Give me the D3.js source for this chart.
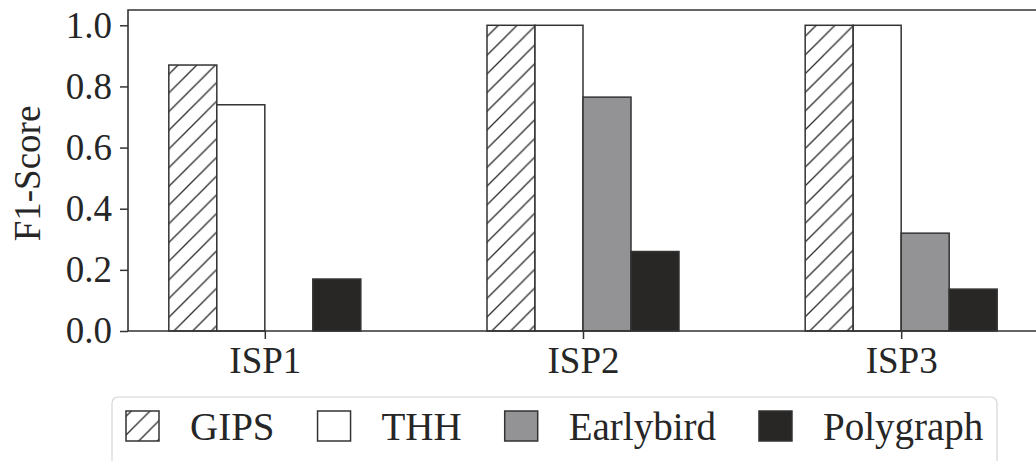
<!DOCTYPE html>
<html>
<head>
<meta charset="utf-8">
<script src="https://cdn.jsdelivr.net/npm/d3@7"></script>
<style>
  body { margin: 0; background: #fff; }
  svg text { font-family: "Liberation Serif", "Times New Roman", serif; fill: #262626; }
</style>
</head>
<body>
<svg id="chart" width="1036" height="461"></svg>
<script>
// data
const isps = ["ISP1", "ISP2", "ISP3"];
const methods = ["GIPS", "THH", "Earlybird", "Polygraph"];
const gips = [0.87, 1.0, 1.0];
const thh = [0.74, 1.0, 1.0];
const earlybird = [0.0, 0.765, 0.32];
const polygraph = [0.17, 0.26, 0.137];
const yTicks = [0.0, 0.2, 0.4, 0.6, 0.8, 1.0];

(function () {
    const series = [gips, thh, earlybird, polygraph];
    const fills = ["url(#hatch)", "#ffffff", "#939396", "#282725"];

    const svg = d3.select("#chart");
    const left = 128, right = 1038, top = 10, bottom = 331;

    // hatch for GIPS
    const pat = svg.append("defs").append("pattern")
        .attr("id", "hatch")
        .attr("patternUnits", "userSpaceOnUse")
        .attr("width", 18.7).attr("height", 18.7);
    pat.append("rect").attr("width", 18.7).attr("height", 18.7).attr("fill", "#fff");
    pat.append("path")
        .attr("d", "M-2,20.7 L20.7,-2 M-4,4 L4,-4 M14.7,22.7 L22.7,14.7")
        .attr("stroke", "#2a2a2a").attr("stroke-width", 1.3);

    const x = d3.scalePoint().domain(isps).range([left, right]).padding(0.43);
    const xs = d3.scaleBand().domain(methods).range([-96, 96]);
    const y = d3.scaleLinear().domain([0, 1.05]).range([bottom, top]);

    //bars
    methods.forEach((m, j) => {
        svg.append("g")
            .selectAll("rect")
            .data(series[j])
            .join("rect")
            .attr("x", (d, i) => x(isps[i]) + xs(m))
            .attr("y", d => y(d))
            .attr("width", xs.bandwidth())
            .attr("height", d => y(0) - y(d))
            .attr("fill", fills[j])
            .attr("stroke", "#333")
            .attr("stroke-width", 1.5);
    });

    //axes
    const yAxis = svg.append("g")
        .attr("transform", `translate(${left},0)`)
        .call(d3.axisLeft(y).tickValues(yTicks).tickFormat(d3.format(".1f")).tickSize(8).tickPadding(8));
    const xAxis = svg.append("g")
        .attr("transform", `translate(0,${bottom})`)
        .call(d3.axisBottom(x).tickSize(8).tickPadding(8));
    [yAxis, xAxis].forEach(a => {
        a.select(".domain").remove();
        a.selectAll("line").attr("stroke", "#333").attr("stroke-width", 1.5);
        a.selectAll("text").style("font-size", "37px")
            .style("font-family", "'Liberation Serif', serif").attr("fill", "#262626");
    });

    //spines
    svg.append("path")
        .attr("d", `M${right},${top} H${left} V${bottom} H${right}`)
        .attr("fill", "none").attr("stroke", "#333").attr("stroke-width", 1.6);

    svg.append("text")
        .attr("transform", `translate(40,${(top + bottom) / 2 + 3}) rotate(-90)`)
        .attr("text-anchor", "middle")
        .style("font-size", "37px")
        .text("F1-Score");

    //legend
    const lg = svg.append("g");
    lg.append("rect")
        .attr("x", 112).attr("y", 397).attr("width", 885).attr("height", 90)
        .attr("rx", 6).attr("fill", "#fff").attr("stroke", "#d6d6d6").attr("stroke-width", 1.2);
    let cx = 126;
    methods.forEach((m, j) => {
        lg.append("rect")
            .attr("x", cx).attr("y", 411).attr("width", 33).attr("height", 30)
            .attr("fill", fills[j]).attr("stroke", "#333").attr("stroke-width", 1.5);
        const t = lg.append("text")
            .attr("x", cx + 64).attr("y", 440)
            .style("font-size", "39px")
            .text(m);
        cx = cx + 64 + t.node().getComputedTextLength() + 43;
    });
})();
</script>
</body>
</html>
